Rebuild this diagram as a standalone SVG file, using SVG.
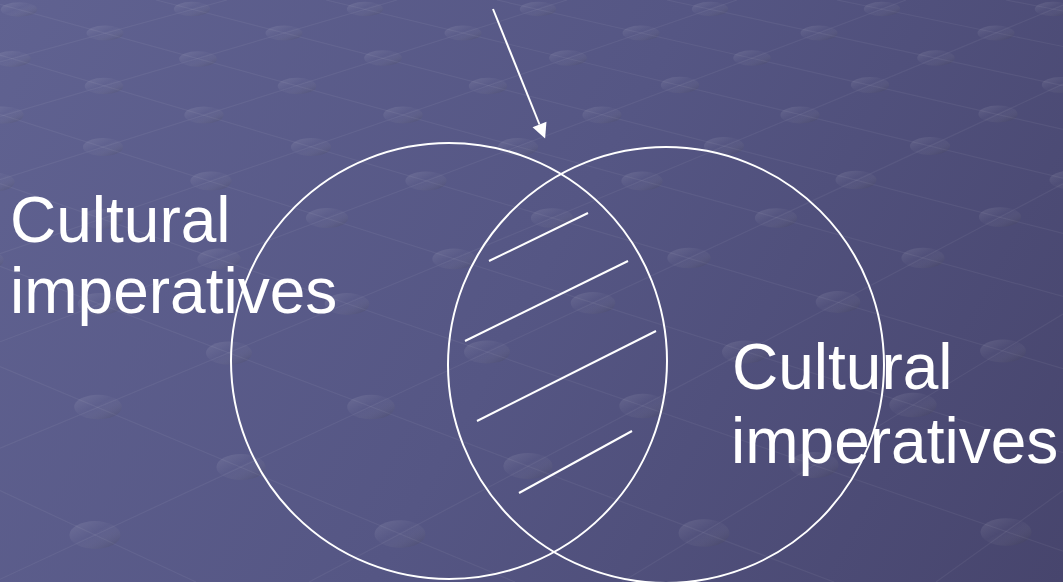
<svg xmlns="http://www.w3.org/2000/svg" width="1063" height="582" viewBox="0 0 1063 582">
  <defs>
    <linearGradient id="bgGrad" gradientUnits="userSpaceOnUse" x1="0" y1="0" x2="1063" y2="582">
      <stop offset="0" stop-color="#606291"/>
      <stop offset="0.5" stop-color="#555684"/>
      <stop offset="1" stop-color="#47456d"/>
    </linearGradient>
    <linearGradient id="dotGrad" x1="0" y1="0" x2="1" y2="1">
      <stop offset="0" stop-color="#ffffff" stop-opacity="0.12"/>
      <stop offset="0.45" stop-color="#ffffff" stop-opacity="0.02"/>
      <stop offset="1" stop-color="#000000" stop-opacity="0.18"/>
    </linearGradient>
    <marker id="arrowHead" markerUnits="userSpaceOnUse" markerWidth="16" markerHeight="16" refX="0" refY="0" viewBox="0 -8 16 16" orient="auto" overflow="visible">
      <path d="M0,-7.5 L15,0 L0,7.5 Z" fill="#ffffff"/>
    </marker>
    <style>
      .grid line { stroke: #ffffff; stroke-opacity: 0.055; stroke-width: 1.2; }
      .dots ellipse { fill: url(#dotGrad); }
      .ring { fill: none; stroke: #ffffff; stroke-width: 2; }
      .hatch line { stroke: #ffffff; stroke-width: 2; stroke-linecap: butt; }
      .label { font-family: "Liberation Sans", Arial, sans-serif; font-size: 64px; fill: #ffffff; }
      .conn { stroke: #ffffff; stroke-width: 2; fill: none; }
    </style>
  </defs>

  <!-- backdrop: shaded plane with a receding lattice of studs -->
  <g id="backdrop">
    <rect x="0" y="0" width="1063" height="582" fill="url(#bgGrad)"/>
    <g class="grid">
      <!-- lines running down to the right -->
      <line x1="1006" y1="0" x2="1063" y2="11"/>
      <line x1="837" y1="0" x2="1063" y2="46.5"/>
      <line x1="667" y1="0" x2="1063" y2="85.6"/>
      <line x1="497" y1="0" x2="1063" y2="129.3"/>
      <line x1="326" y1="0" x2="1063" y2="178.2"/>
      <line x1="156" y1="0" x2="1063" y2="233.4"/>
      <line x1="0" y1="4.3" x2="1063" y2="296.4"/>
      <line x1="0" y1="55.1" x2="1063" y2="368.6"/>
      <line x1="0" y1="114.3" x2="1063" y2="452.6"/>
      <line x1="0" y1="183.6" x2="1063" y2="551.2"/>
      <line x1="0" y1="266.3" x2="834" y2="582"/>
      <line x1="0" y1="366.5" x2="515" y2="582"/>
      <line x1="0" y1="490.6" x2="196" y2="582"/>
      <!-- lines running up to the right -->
      <line x1="0" y1="61.8" x2="227" y2="0"/>
      <line x1="0" y1="116.5" x2="397" y2="0"/>
      <line x1="0" y1="179.6" x2="567" y2="0"/>
      <line x1="0" y1="253.7" x2="737" y2="0"/>
      <line x1="0" y1="341.8" x2="906" y2="0"/>
      <line x1="0" y1="448.1" x2="1063" y2="5"/>
      <line x1="0" y1="579.3" x2="1063" y2="84"/>
      <line x1="309" y1="582" x2="1063" y2="183.9"/>
      <line x1="622" y1="582" x2="1063" y2="314"/>
      <line x1="936" y1="582" x2="1063" y2="490.6"/>
    </g>
    <g class="dots">
      <ellipse cx="19" cy="9.5" rx="18.2" ry="7.2"/>
      <ellipse cx="105" cy="33" rx="18.5" ry="7.5"/>
      <ellipse cx="12" cy="59" rx="18.9" ry="7.9"/>
      <ellipse cx="192" cy="9" rx="18.2" ry="7.2"/>
      <ellipse cx="365" cy="9" rx="18.2" ry="7.2"/>
      <ellipse cx="284" cy="33" rx="18.5" ry="7.5"/>
      <ellipse cx="198" cy="59" rx="18.9" ry="7.8"/>
      <ellipse cx="104" cy="86" rx="19.3" ry="8.2"/>
      <ellipse cx="4" cy="115" rx="19.7" ry="8.6"/>
      <ellipse cx="538" cy="9" rx="18.2" ry="7.2"/>
      <ellipse cx="463" cy="33" rx="18.5" ry="7.5"/>
      <ellipse cx="383" cy="58" rx="18.9" ry="7.8"/>
      <ellipse cx="297" cy="86" rx="19.3" ry="8.2"/>
      <ellipse cx="204" cy="115" rx="19.7" ry="8.6"/>
      <ellipse cx="103" cy="147" rx="20.1" ry="9"/>
      <ellipse cx="-6" cy="182" rx="20.6" ry="9.4"/>
      <ellipse cx="710" cy="9" rx="18.2" ry="7.2"/>
      <ellipse cx="641" cy="33" rx="18.5" ry="7.5"/>
      <ellipse cx="568" cy="58" rx="18.9" ry="7.8"/>
      <ellipse cx="488" cy="86" rx="19.2" ry="8.2"/>
      <ellipse cx="403" cy="115" rx="19.7" ry="8.5"/>
      <ellipse cx="311" cy="147" rx="20.1" ry="8.9"/>
      <ellipse cx="211" cy="181" rx="20.6" ry="9.4"/>
      <ellipse cx="102" cy="219" rx="21.1" ry="9.9"/>
      <ellipse cx="-18" cy="260" rx="21.7" ry="10.4"/>
      <ellipse cx="882" cy="9" rx="18.2" ry="7.2"/>
      <ellipse cx="819" cy="33" rx="18.5" ry="7.5"/>
      <ellipse cx="752" cy="58" rx="18.8" ry="7.8"/>
      <ellipse cx="680" cy="85" rx="19.2" ry="8.2"/>
      <ellipse cx="602" cy="115" rx="19.6" ry="8.5"/>
      <ellipse cx="518" cy="147" rx="20.1" ry="8.9"/>
      <ellipse cx="426" cy="181" rx="20.6" ry="9.4"/>
      <ellipse cx="327" cy="218" rx="21.1" ry="9.9"/>
      <ellipse cx="219" cy="259" rx="21.7" ry="10.4"/>
      <ellipse cx="100" cy="304" rx="22.3" ry="11"/>
      <ellipse cx="1053" cy="9" rx="18.2" ry="7.2"/>
      <ellipse cx="996" cy="33" rx="18.5" ry="7.5"/>
      <ellipse cx="936" cy="58" rx="18.8" ry="7.8"/>
      <ellipse cx="870" cy="85" rx="19.2" ry="8.1"/>
      <ellipse cx="800" cy="115" rx="19.6" ry="8.5"/>
      <ellipse cx="724" cy="146" rx="20.1" ry="8.9"/>
      <ellipse cx="642" cy="181" rx="20.6" ry="9.4"/>
      <ellipse cx="552" cy="218" rx="21.1" ry="9.8"/>
      <ellipse cx="454" cy="259" rx="21.7" ry="10.4"/>
      <ellipse cx="347" cy="304" rx="22.3" ry="10.9"/>
      <ellipse cx="229" cy="353" rx="23" ry="11.6"/>
      <ellipse cx="98" cy="407" rx="23.8" ry="12.3"/>
      <ellipse cx="1061" cy="85" rx="19.2" ry="8.1"/>
      <ellipse cx="998" cy="114" rx="19.6" ry="8.5"/>
      <ellipse cx="930" cy="146" rx="20.1" ry="8.9"/>
      <ellipse cx="856" cy="180" rx="20.5" ry="9.3"/>
      <ellipse cx="776" cy="218" rx="21.1" ry="9.8"/>
      <ellipse cx="689" cy="258" rx="21.7" ry="10.3"/>
      <ellipse cx="593" cy="303" rx="22.3" ry="10.9"/>
      <ellipse cx="487" cy="352" rx="23" ry="11.5"/>
      <ellipse cx="371" cy="407" rx="23.8" ry="12.2"/>
      <ellipse cx="241" cy="467" rx="24.6" ry="13"/>
      <ellipse cx="95" cy="535" rx="25.6" ry="13.9"/>
      <ellipse cx="1070" cy="180" rx="20.5" ry="9.3"/>
      <ellipse cx="1000" cy="217" rx="21.1" ry="9.8"/>
      <ellipse cx="923" cy="258" rx="21.6" ry="10.3"/>
      <ellipse cx="838" cy="302" rx="22.3" ry="10.9"/>
      <ellipse cx="745" cy="352" rx="23" ry="11.5"/>
      <ellipse cx="643" cy="406" rx="23.7" ry="12.2"/>
      <ellipse cx="528" cy="466" rx="24.6" ry="13"/>
      <ellipse cx="400" cy="534" rx="25.5" ry="13.8"/>
      <ellipse cx="1003" cy="351" rx="22.9" ry="11.5"/>
      <ellipse cx="913" cy="405" rx="23.7" ry="12.2"/>
      <ellipse cx="814" cy="465" rx="24.6" ry="13"/>
      <ellipse cx="704" cy="533" rx="25.5" ry="13.8"/>
      <ellipse cx="1006" cy="532" rx="25.5" ry="13.8"/>
    </g>
  </g>

  <!-- left set -->
  <g id="set-left">
    <circle class="ring" cx="449" cy="361" r="218"/>
    <text class="label" x="10" y="242">Cultural</text>
    <text class="label" x="10" y="313">imperatives</text>
  </g>

  <!-- right set -->
  <g id="set-right">
    <circle class="ring" cx="666" cy="365" r="218"/>
    <text class="label" x="732" y="389">Cultural</text>
    <text class="label" x="731" y="463">imperatives</text>
  </g>

  <!-- shared region, hatched -->
  <g id="overlap" class="hatch">
    <line x1="489" y1="261" x2="588" y2="213"/>
    <line x1="465" y1="341" x2="628" y2="261"/>
    <line x1="477" y1="421" x2="656" y2="331"/>
    <line x1="519" y1="493" x2="632" y2="431"/>
  </g>

  <!-- pointer into the overlap -->
  <g id="connectors">
    <line class="conn" x1="493" y1="9" x2="539.5" y2="124.5" marker-end="url(#arrowHead)"/>
  </g>
</svg>
